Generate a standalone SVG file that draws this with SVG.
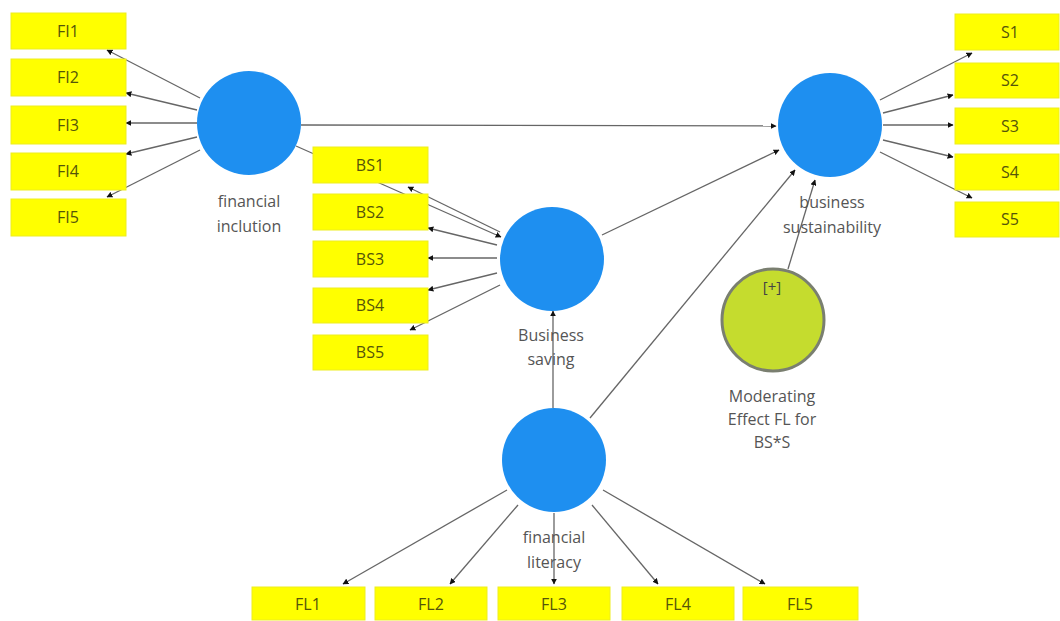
<svg xmlns="http://www.w3.org/2000/svg" width="1060" height="621" viewBox="0 0 1060 621">
<defs>
<marker id="ah" viewBox="0 0 10 10" refX="9" refY="5" markerWidth="6" markerHeight="6" orient="auto" markerUnits="userSpaceOnUse">
<path d="M0,0 L10,5 L0,10 z" fill="#111"/>
</marker>
<style>
.box{fill:#ffff00;stroke:#eded20;stroke-width:1}
.bt{font-family:"Open Sans","Liberation Sans",sans-serif;font-size:16px;fill:#55550a;text-anchor:middle;dominant-baseline:central}
.lv{fill:#1e8ff0}
.mod{fill:#c5dc2e;stroke:#7a7f70;stroke-width:3}
.lt{font-family:"Open Sans","Liberation Sans",sans-serif;font-size:16px;fill:#555;text-anchor:middle}
.c{stroke:#666;stroke-width:1.3;fill:none;marker-end:url(#ah)}
</style>
</defs>
<rect width="1060" height="621" fill="#fff"/>
<g id="connectors">
<line class="c" x1="200" y1="98" x2="107" y2="50"/>
<line class="c" x1="197" y1="110" x2="126" y2="93"/>
<line class="c" x1="197" y1="123" x2="126" y2="123"/>
<line class="c" x1="197" y1="137" x2="126" y2="154"/>
<line class="c" x1="200" y1="150" x2="107" y2="197"/>
<line class="c" x1="301" y1="125" x2="776" y2="126"/>
<line class="c" x1="296" y1="146" x2="501" y2="237"/>
<line class="c" x1="500" y1="232" x2="408" y2="187"/>
<line class="c" x1="497" y1="245" x2="428" y2="228"/>
<line class="c" x1="497" y1="258" x2="428" y2="258"/>
<line class="c" x1="497" y1="273" x2="428" y2="290"/>
<line class="c" x1="500" y1="285" x2="410" y2="330"/>
<line class="c" x1="602" y1="235" x2="779" y2="150"/>
<line class="c" x1="880" y1="100" x2="972" y2="53"/>
<line class="c" x1="883" y1="113" x2="953" y2="95"/>
<line class="c" x1="883" y1="125" x2="953" y2="125"/>
<line class="c" x1="883" y1="140" x2="953" y2="157"/>
<line class="c" x1="880" y1="152" x2="972" y2="198"/>
<line class="c" x1="788" y1="269" x2="815" y2="180"/>
<line class="c" x1="590" y1="418" x2="795" y2="170"/>
<line class="c" x1="553" y1="408" x2="553" y2="311"/>
<line class="c" x1="507" y1="490" x2="343" y2="584"/>
<line class="c" x1="518" y1="505" x2="450" y2="584"/>
<line class="c" x1="554" y1="513" x2="554" y2="584"/>
<line class="c" x1="592" y1="505" x2="658" y2="584"/>
<line class="c" x1="603" y1="490" x2="765" y2="584"/>
</g>
<g id="FI1"><rect class="box" x="11" y="13" width="115" height="36"/><text class="bt" x="68" y="31">FI1</text></g>
<g id="FI2"><rect class="box" x="11" y="59" width="115" height="37"/><text class="bt" x="68" y="77">FI2</text></g>
<g id="FI3"><rect class="box" x="11" y="106" width="115" height="38"/><text class="bt" x="68" y="125">FI3</text></g>
<g id="FI4"><rect class="box" x="11" y="153" width="115" height="37"/><text class="bt" x="68" y="171">FI4</text></g>
<g id="FI5"><rect class="box" x="11" y="199" width="115" height="37"/><text class="bt" x="68" y="217">FI5</text></g>
<g id="BS1"><rect class="box" x="313" y="147" width="115" height="36"/><text class="bt" x="370" y="165">BS1</text></g>
<g id="BS2"><rect class="box" x="313" y="194" width="115" height="36"/><text class="bt" x="370" y="212">BS2</text></g>
<g id="BS3"><rect class="box" x="313" y="241" width="115" height="36"/><text class="bt" x="370" y="259">BS3</text></g>
<g id="BS4"><rect class="box" x="313" y="288" width="115" height="35"/><text class="bt" x="370" y="305">BS4</text></g>
<g id="BS5"><rect class="box" x="313" y="335" width="115" height="35"/><text class="bt" x="370" y="352">BS5</text></g>
<g id="S1"><rect class="box" x="955" y="14" width="104" height="36"/><text class="bt" x="1010" y="32">S1</text></g>
<g id="S2"><rect class="box" x="955" y="63" width="104" height="35"/><text class="bt" x="1010" y="80">S2</text></g>
<g id="S3"><rect class="box" x="955" y="108" width="104" height="36"/><text class="bt" x="1010" y="126">S3</text></g>
<g id="S4"><rect class="box" x="955" y="154" width="104" height="36"/><text class="bt" x="1010" y="172">S4</text></g>
<g id="S5"><rect class="box" x="955" y="202" width="104" height="35"/><text class="bt" x="1010" y="219">S5</text></g>
<g id="FL1"><rect class="box" x="252" y="587" width="113" height="33"/><text class="bt" x="308" y="604">FL1</text></g>
<g id="FL2"><rect class="box" x="375" y="587" width="112" height="33"/><text class="bt" x="431" y="604">FL2</text></g>
<g id="FL3"><rect class="box" x="498" y="587" width="112" height="33"/><text class="bt" x="554" y="604">FL3</text></g>
<g id="FL4"><rect class="box" x="622" y="587" width="112" height="33"/><text class="bt" x="678" y="604">FL4</text></g>
<g id="FL5"><rect class="box" x="743" y="587" width="115" height="33"/><text class="bt" x="800" y="604">FL5</text></g>
<g id="financial-inclution"><circle class="lv" cx="249" cy="123" r="52"/><text class="lt" x="249" y="207">financial</text><text class="lt" x="249" y="232">inclution</text></g>
<g id="business-saving"><circle class="lv" cx="552" cy="259" r="52"/><text class="lt" x="551" y="341">Business</text><text class="lt" x="551" y="365">saving</text></g>
<g id="business-sustainability"><circle class="lv" cx="830" cy="125" r="52"/><text class="lt" x="832" y="208">business</text><text class="lt" x="832" y="233">sustainability</text></g>
<g id="financial-literacy"><circle class="lv" cx="554" cy="460" r="52"/><text class="lt" x="554" y="543">financial</text><text class="lt" x="554" y="568">literacy</text></g>
<g id="moderating"><circle class="mod" cx="773" cy="320" r="51"/><text class="lt" x="772" y="292" style="fill:#444;font-size:15px">[+]</text><text class="lt" x="772" y="402">Moderating</text><text class="lt" x="772" y="425">Effect FL for</text><text class="lt" x="772" y="448">BS*S</text></g>
</svg>
